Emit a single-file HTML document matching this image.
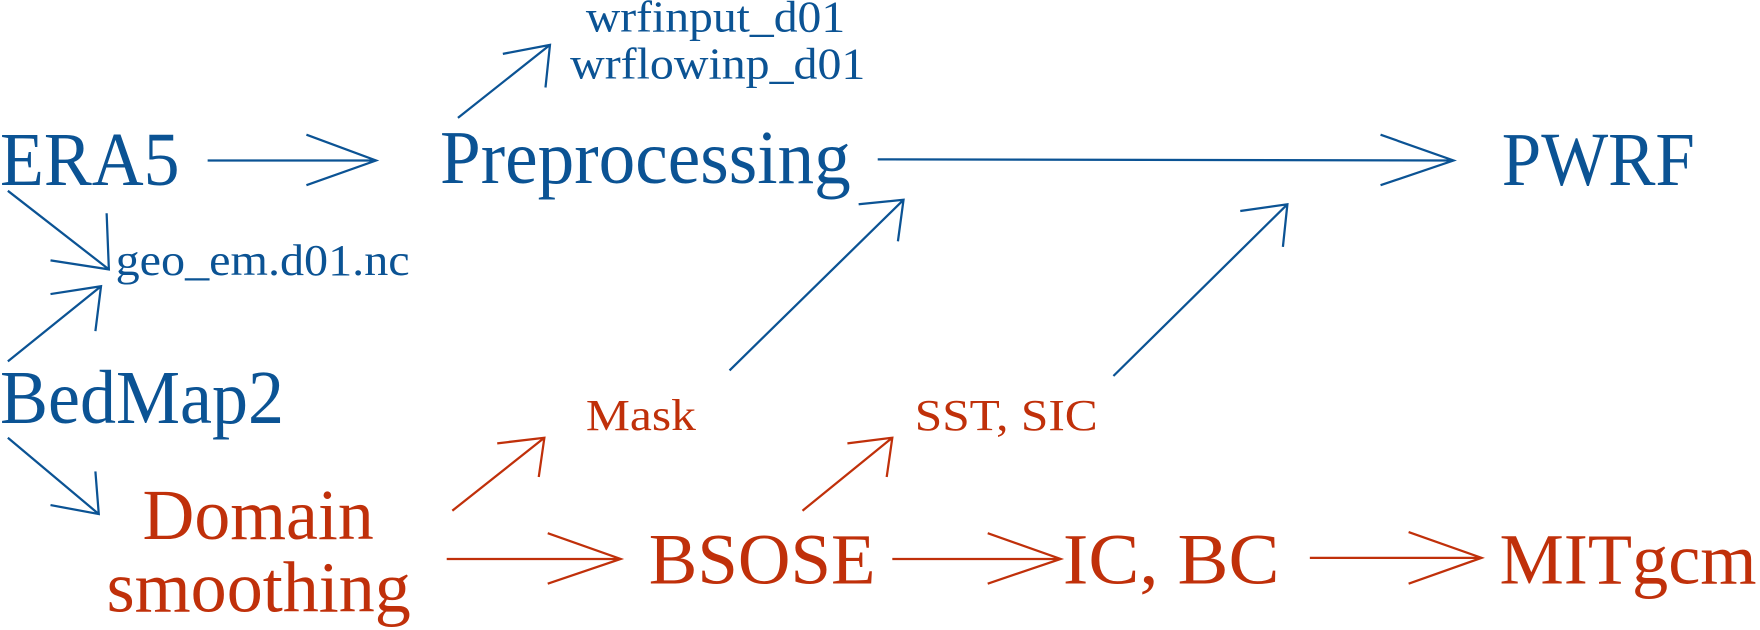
<!DOCTYPE html>
<html><head><style>html,body{margin:0;padding:0;background:#fff}svg{display:block}</style></head>
<body>
<svg width="1760" height="630" viewBox="0 0 1760 630" xmlns="http://www.w3.org/2000/svg" font-family="'Liberation Serif', serif">
<g transform="scale(1.1224)">
<g fill="#0b5394">
<text x="0" y="165" font-size="68" textLength="160" lengthAdjust="spacingAndGlyphs">ERA5</text>
<text x="392" y="163" font-size="68" textLength="366" lengthAdjust="spacingAndGlyphs">Preprocessing</text>
<text x="1338" y="165" font-size="68" textLength="172" lengthAdjust="spacingAndGlyphs">PWRF</text>
<text x="0" y="377" font-size="68" textLength="253" lengthAdjust="spacingAndGlyphs">BedMap2</text>
<text x="522" y="28" font-size="40" textLength="231" lengthAdjust="spacingAndGlyphs">wrfinput_d01</text>
<text x="508" y="70" font-size="40" textLength="263" lengthAdjust="spacingAndGlyphs">wrflowinp_d01</text>
<text x="103" y="245" font-size="40" textLength="262" lengthAdjust="spacingAndGlyphs">geo_em.d01.nc</text>
</g>
<g fill="#c0300a">
<text x="522" y="383" font-size="40" textLength="98" lengthAdjust="spacingAndGlyphs">Mask</text>
<text x="815" y="383" font-size="40" textLength="163" lengthAdjust="spacingAndGlyphs">SST, SIC</text>
<text x="127" y="480" font-size="64" textLength="206" lengthAdjust="spacingAndGlyphs">Domain</text>
<text x="95" y="545" font-size="64" textLength="271" lengthAdjust="spacingAndGlyphs">smoothing</text>
<text x="578" y="520" font-size="64" textLength="202" lengthAdjust="spacingAndGlyphs">BSOSE</text>
<text x="947" y="520" font-size="64" textLength="193" lengthAdjust="spacingAndGlyphs">IC, BC</text>
<text x="1336" y="520" font-size="64" textLength="229" lengthAdjust="spacingAndGlyphs">MITgcm</text>
</g>
<g stroke="#0b5394" stroke-width="2" fill="none">
<path d="M185 143H335M273 120L335 143L273 165"/>
<path d="M782 142L1295 143M1230 120L1295 143L1230 165"/>
<path d="M408 105L490 40M448 48L490 40L486 78"/>
<path d="M7 170L97 240M45 232L97 240L95 190"/>
<path d="M7 322L90 255M45 262L90 255L85 295"/>
<path d="M650 330L805 178M765 182L805 178L800 215"/>
<path d="M992 335L1147 182M1105 188L1147 182L1143 220"/>
<path d="M7 390L88 458M45 450L88 458L85 420"/>
</g>
<g stroke="#c0300a" stroke-width="2" fill="none">
<path d="M403 455L485 390M443 395L485 390L480 425"/>
<path d="M398 498H553M488 475L553 498L488 520"/>
<path d="M715 455L795 390M755 395L795 390L790 425"/>
<path d="M795 498H945M880 475L945 498L880 520"/>
<path d="M1167 497H1320M1255 474L1320 497L1255 520"/>
</g>
</g>
</svg>
</body></html>
